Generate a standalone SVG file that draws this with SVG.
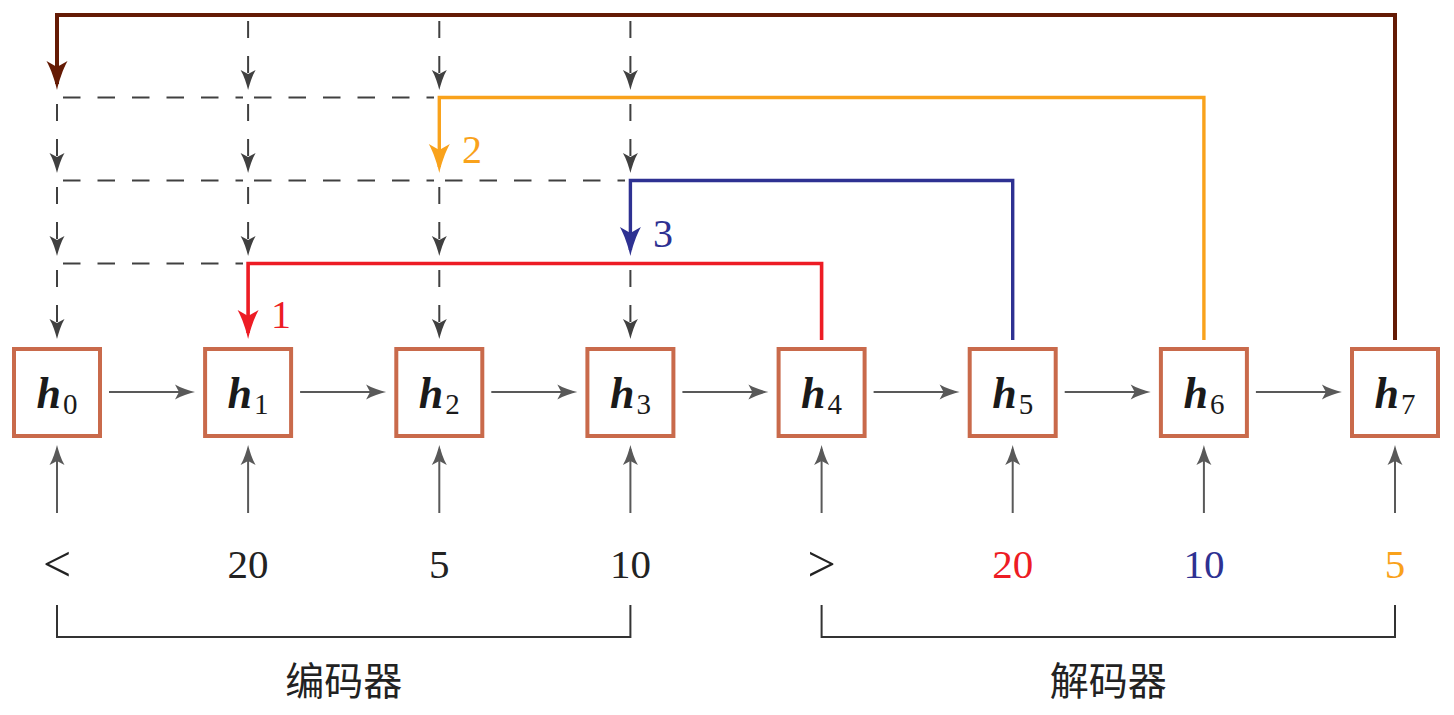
<svg xmlns="http://www.w3.org/2000/svg" width="1454" height="715" viewBox="0 0 1454 715">
<style>
.box{fill:#fff;stroke:#C96A4B;stroke-width:4}
.h{font-family:'Liberation Serif','Times New Roman','DejaVu Serif',serif;font-weight:bold;font-style:italic;font-size:44px;fill:#1a1a1a}
.sub{font-family:'Liberation Serif','Times New Roman','DejaVu Serif',serif;font-weight:normal;font-style:normal;font-size:29px;fill:#1a1a1a}
.dash{fill:none;stroke:#404040;stroke-width:2;stroke-dasharray:17.5 17}
.dv{fill:none;stroke:#404040;stroke-width:2;stroke-dasharray:17 18;marker-end:url(#ad)}
.ga{fill:none;stroke:#595959;stroke-width:2;marker-end:url(#ag)}
.num{font-family:'Liberation Serif','Times New Roman','DejaVu Serif',serif;font-size:41px;text-anchor:middle;fill:#222}
.rel{font-family:'Liberation Serif','Times New Roman','DejaVu Serif',serif;font-size:50px;text-anchor:middle;fill:#222}
.cjk{font-family:'Noto Sans CJK SC',sans-serif;font-size:39px;text-anchor:middle;fill:#222}
.brk{fill:none;stroke:#333;stroke-width:2}
.lab{font-family:'Liberation Serif','Times New Roman','DejaVu Serif',serif;font-size:40px}
</style>
<defs>
<marker id="ag" markerUnits="userSpaceOnUse" orient="auto" refX="16" refY="0" markerWidth="30" markerHeight="30" overflow="visible"><path d="M20,0 C14,-1.5 6,-4 0,-7.5 L4,0 L0,7.5 C6,4 14,1.5 20,0 Z" fill="#595959"/></marker>
<marker id="ad" markerUnits="userSpaceOnUse" orient="auto" refX="16" refY="0" markerWidth="30" markerHeight="30" overflow="visible"><path d="M20,0 C14,-1.5 6,-4 0,-7.5 L4,0 L0,7.5 C6,4 14,1.5 20,0 Z" fill="#404040"/></marker>
<marker id="ar" markerUnits="userSpaceOnUse" orient="auto" refX="23" refY="0" markerWidth="40" markerHeight="40" overflow="visible"><path d="M29,0 C20,-2 8,-6 0,-10.5 L6,0 L0,10.5 C8,6 20,2 29,0 Z" fill="#ED1C24"/></marker>
<marker id="ab" markerUnits="userSpaceOnUse" orient="auto" refX="23" refY="0" markerWidth="40" markerHeight="40" overflow="visible"><path d="M29,0 C20,-2 8,-6 0,-10.5 L6,0 L0,10.5 C8,6 20,2 29,0 Z" fill="#2E3192"/></marker>
<marker id="ao" markerUnits="userSpaceOnUse" orient="auto" refX="23" refY="0" markerWidth="40" markerHeight="40" overflow="visible"><path d="M29,0 C20,-2 8,-6 0,-10.5 L6,0 L0,10.5 C8,6 20,2 29,0 Z" fill="#F9A21B"/></marker>
<marker id="an" markerUnits="userSpaceOnUse" orient="auto" refX="23" refY="0" markerWidth="40" markerHeight="40" overflow="visible"><path d="M29,0 C20,-2 8,-6 0,-10.5 L6,0 L0,10.5 C8,6 20,2 29,0 Z" fill="#641A04"/></marker>
</defs>
<rect width="1454" height="715" fill="#fff"/>

<g id="connectors">
<path class="dash" d="M63,97.5 H243 M254,97.5 H434 M63,180.5 H243 M254,180.5 H434 M445,180.5 H625 M63,263.5 H243"/>
<path class="dv" d="M248.1,21 V86"/>
<path class="dv" d="M439.3,21 V86"/>
<path class="dv" d="M630.4,21 V86"/>
<path class="dv" d="M57,104 V169"/>
<path class="dv" d="M248.1,104 V169"/>
<path class="dv" d="M630.4,104 V169"/>
<path class="dv" d="M57,187 V252"/>
<path class="dv" d="M248.1,187 V252"/>
<path class="dv" d="M439.3,187 V252"/>
<path class="dv" d="M57,270 V335"/>
<path class="dv" d="M439.3,270 V335"/>
<path class="dv" d="M630.4,270 V335"/>
<path d="M821.6,340 V263.5 H248.1 V333" fill="none" stroke="#ED1C24" stroke-width="3.6" marker-end="url(#ar)"/>
<path d="M1012.7,340 V180.5 H630.4 V250" fill="none" stroke="#2E3192" stroke-width="3.4" marker-end="url(#ab)"/>
<path d="M1203.9,340 V97.5 H439.3 V167" fill="none" stroke="#F9A21B" stroke-width="3.4" marker-end="url(#ao)"/>
<path d="M1395,340 V15 H57 V84" fill="none" stroke="#641A04" stroke-width="4" marker-end="url(#an)"/>
<path class="ga" d="M109,392 H191"/>
<path class="ga" d="M300.1,392 H382.1"/>
<path class="ga" d="M491.3,392 H573.3"/>
<path class="ga" d="M682.4,392 H764.4"/>
<path class="ga" d="M873.6,392 H955.6"/>
<path class="ga" d="M1064.7,392 H1146.7"/>
<path class="ga" d="M1255.9,392 H1337.9"/>
<path class="ga" d="M57,513 V449"/>
<path class="ga" d="M248.1,513 V449"/>
<path class="ga" d="M439.3,513 V449"/>
<path class="ga" d="M630.4,513 V449"/>
<path class="ga" d="M821.6,513 V449"/>
<path class="ga" d="M1012.7,513 V449"/>
<path class="ga" d="M1203.9,513 V449"/>
<path class="ga" d="M1395,513 V449"/>
</g>

<g id="step-labels">
<text class="lab" x="271" y="328" fill="#ED1C24">1</text>
<text class="lab" x="462" y="163" fill="#F9A21B">2</text>
<text class="lab" x="653" y="247" fill="#2E3192">3</text>
</g>

<g id="h0"><rect class="box" x="14" y="349" width="86" height="87"/><text x="57" y="408" text-anchor="middle"><tspan class="h">h</tspan><tspan class="sub" dx="2" dy="6">0</tspan></text></g>
<g id="h1"><rect class="box" x="205.1" y="349" width="86" height="87"/><text x="248.1" y="408" text-anchor="middle"><tspan class="h">h</tspan><tspan class="sub" dx="2" dy="6">1</tspan></text></g>
<g id="h2"><rect class="box" x="396.3" y="349" width="86" height="87"/><text x="439.3" y="408" text-anchor="middle"><tspan class="h">h</tspan><tspan class="sub" dx="2" dy="6">2</tspan></text></g>
<g id="h3"><rect class="box" x="587.4" y="349" width="86" height="87"/><text x="630.4" y="408" text-anchor="middle"><tspan class="h">h</tspan><tspan class="sub" dx="2" dy="6">3</tspan></text></g>
<g id="h4"><rect class="box" x="778.6" y="349" width="86" height="87"/><text x="821.6" y="408" text-anchor="middle"><tspan class="h">h</tspan><tspan class="sub" dx="2" dy="6">4</tspan></text></g>
<g id="h5"><rect class="box" x="969.7" y="349" width="86" height="87"/><text x="1012.7" y="408" text-anchor="middle"><tspan class="h">h</tspan><tspan class="sub" dx="2" dy="6">5</tspan></text></g>
<g id="h6"><rect class="box" x="1160.9" y="349" width="86" height="87"/><text x="1203.9" y="408" text-anchor="middle"><tspan class="h">h</tspan><tspan class="sub" dx="2" dy="6">6</tspan></text></g>
<g id="h7"><rect class="box" x="1352" y="349" width="86" height="87"/><text x="1395" y="408" text-anchor="middle"><tspan class="h">h</tspan><tspan class="sub" dx="2" dy="6">7</tspan></text></g>

<g id="inputs">
<text class="rel" x="57" y="581">&lt;</text>
<text class="num" x="248.1" y="578">20</text>
<text class="num" x="439.3" y="578">5</text>
<text class="num" x="630.4" y="578">10</text>
<text class="rel" x="821.6" y="581">&gt;</text>
<text class="num" x="1012.7" y="578" style="fill:#ED1C24">20</text>
<text class="num" x="1203.9" y="578" style="fill:#2E3192">10</text>
<text class="num" x="1395" y="578" style="fill:#F9A21B">5</text>
</g>

<g id="encoder">
<path class="brk" d="M57,605 V637 H630.4 V605"/>
<text class="cjk" x="343.7" y="695">编码器</text>
</g>
<g id="decoder">
<path class="brk" d="M821.6,605 V637 H1395 V605"/>
<text class="cjk" x="1108.3" y="695">解码器</text>
</g>
</svg>
